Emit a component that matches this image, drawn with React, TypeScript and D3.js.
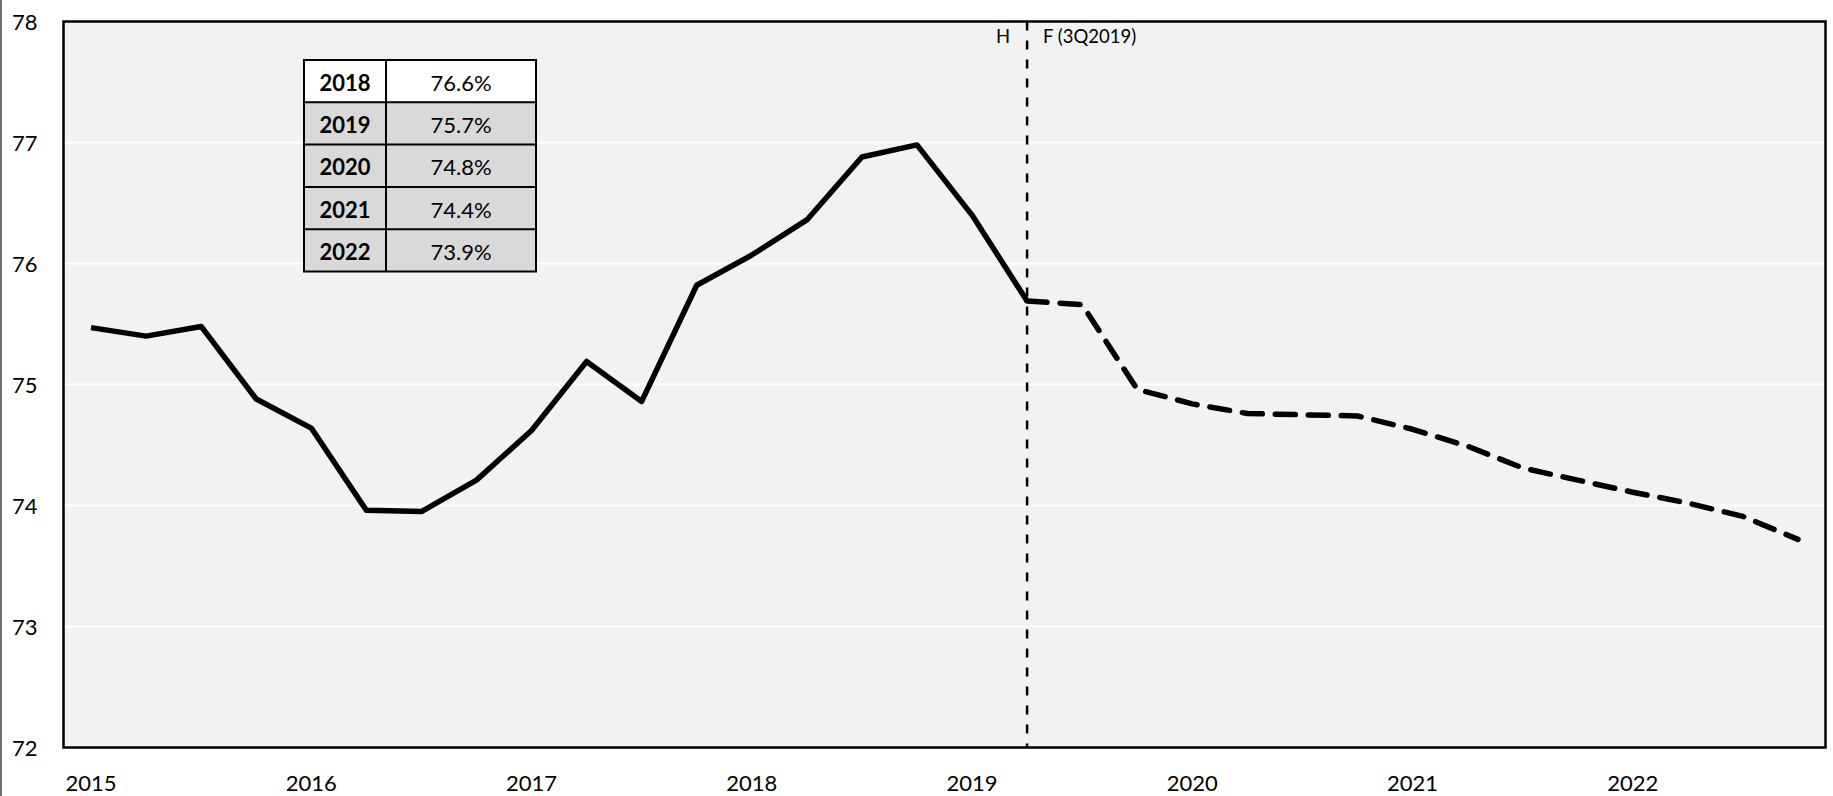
import React, { useEffect } from "react";
import * as d3 from "d3";

const quarters = [
  "2015Q1", "2015Q2", "2015Q3", "2015Q4",
  "2016Q1", "2016Q2", "2016Q3", "2016Q4",
  "2017Q1", "2017Q2", "2017Q3", "2017Q4",
  "2018Q1", "2018Q2", "2018Q3", "2018Q4",
  "2019Q1", "2019Q2", "2019Q3", "2019Q4",
  "2020Q1", "2020Q2", "2020Q3", "2020Q4",
  "2021Q1", "2021Q2", "2021Q3", "2021Q4",
  "2022Q1", "2022Q2", "2022Q3", "2022Q4",
];

const historyQuarters = quarters.slice(0, 18);
const historyValues = [
  75.47, 75.4, 75.48, 74.88, 74.64, 73.96, 73.95, 74.21, 74.62, 75.19,
  74.86, 75.82, 76.07, 76.36, 76.88, 76.98, 76.4, 75.69,
];

const forecastQuarters = quarters.slice(17);
const forecastValues = [
  75.69, 75.66, 74.96, 74.84, 74.76, 74.75, 74.74, 74.63, 74.49, 74.31,
  74.21, 74.11, 74.02, 73.91, 73.72,
];

const yearLabels = ["2015", "2016", "2017", "2018", "2019", "2020", "2021", "2022"];
const yTicks = [72, 73, 74, 75, 76, 77, 78];

const tableYears = ["2018", "2019", "2020", "2021", "2022"];
const tableValues = ["76.6%", "75.7%", "74.8%", "74.4%", "73.9%"];

const splitQuarter = "2019Q2";

const W = 1833;
const H = 796;
const plot = { left: 63.5, top: 21.5, right: 1825.5, bottom: 747.5 };
const FONT = "Lato, 'Open Sans', sans-serif";

export default function App() {
  useEffect(() => {
    document.body.style.margin = "0";
  }, []);

  const x = d3
    .scaleBand<string>()
    .domain(quarters)
    .range([plot.left, plot.right])
    .padding(0);
  const cx = (q: string) => (x(q) as number) + x.bandwidth() / 2;
  const y = d3.scaleLinear().domain([72, 78]).range([plot.bottom, plot.top]);

  const line = d3
    .line<[string, number]>()
    .x((d) => cx(d[0]))
    .y((d) => y(d[1]))
    .curve(d3.curveLinear);

  const histPath = line(historyQuarters.map((q, i) => [q, historyValues[i]]) as [string, number][]) || "";
  const fcPath = line(forecastQuarters.map((q, i) => [q, forecastValues[i]]) as [string, number][]) || "";

  const splitX = cx(splitQuarter);

  const table = { left: 304, colX: 386, right: 536, top: 60, rowH: 42.3 };

  return (
    <svg
      width={W}
      height={H}
      style={{ position: "absolute", left: 0, top: 0, background: "#ffffff" }}
      fontFamily={FONT}
    >
      <rect x={0} y={0} width={W} height={H} fill="#ffffff" />
      <line x1={1} x2={1} y1={0} y2={H} stroke="#404040" strokeWidth={1.5} />
      {/* plot background */}
      <rect
        x={plot.left}
        y={plot.top}
        width={plot.right - plot.left}
        height={plot.bottom - plot.top}
        fill="#f2f2f2"
      />
      {/* gridlines */}
      {yTicks
        .filter((t) => t !== 72 && t !== 78)
        .map((t) => (
          <line
            key={"g" + t}
            x1={plot.left}
            x2={plot.right}
            y1={y(t)}
            y2={y(t)}
            stroke="#ffffff"
            strokeWidth={2}
          />
        ))}
      {/* y labels */}
      {yTicks.map((t) => (
        <text
          key={"y" + t}
          x={37.5}
          y={y(t)}
          textAnchor="end"
          dominantBaseline="central"
          fontSize={22}
          fill="#000"
        >
          {t}
        </text>
      ))}
      {/* x labels */}
      {yearLabels.map((yr) => (
        <text
          key={"x" + yr}
          x={cx(yr + "Q1")}
          y={782}
          textAnchor="middle"
          dominantBaseline="central"
          fontSize={22}
          fill="#000"
        >
          {yr}
        </text>
      ))}
      {/* split line */}
      <line
        x1={splitX}
        x2={splitX}
        y1={plot.top}
        y2={plot.bottom}
        stroke="#000"
        strokeWidth={2.5}
        strokeDasharray="9 10"
      />
      <text x={splitX - 17} y={42.5} textAnchor="end" fontSize={18.5} fill="#000">
        H
      </text>
      <text x={splitX + 16} y={42.5} textAnchor="start" fontSize={18.5} fill="#000">
        F (3Q2019)
      </text>
      {/* lines */}
      <path d={histPath} fill="none" stroke="#000" strokeWidth={5.5} strokeLinejoin="round" />
      <path
        d={fcPath}
        fill="none"
        stroke="#000"
        strokeWidth={5.5}
        strokeLinejoin="round"
        strokeLinecap="round"
        strokeDasharray="20 13"
      />
      {/* plot border */}
      <rect
        x={plot.left}
        y={plot.top}
        width={plot.right - plot.left}
        height={plot.bottom - plot.top}
        fill="none"
        stroke="#000"
        strokeWidth={2.5}
      />
      {/* table */}
      <g>
        {tableYears.map((yr, i) => {
          const ty = table.top + i * table.rowH;
          const fill = i === 0 ? "#ffffff" : "#d9d9d9";
          return (
            <g key={"t" + yr}>
              <rect x={table.left} y={ty} width={table.right - table.left} height={table.rowH} fill={fill} />
              <text
                x={(table.left + table.colX) / 2}
                y={ty + table.rowH / 2 + 1}
                textAnchor="middle"
                dominantBaseline="central"
                fontSize={22}
                fontWeight="bold"
                fill="#000"
              >
                {yr}
              </text>
              <text
                x={(table.colX + table.right) / 2}
                y={ty + table.rowH / 2 + 1}
                textAnchor="middle"
                dominantBaseline="central"
                fontSize={22}
                fill="#000"
              >
                {tableValues[i]}
              </text>
            </g>
          );
        })}
        {tableYears.map((yr, i) =>
          i === 0 ? null : (
            <line
              key={"tl" + yr}
              x1={table.left}
              x2={table.right}
              y1={table.top + i * table.rowH}
              y2={table.top + i * table.rowH}
              stroke="#000"
              strokeWidth={2}
            />
          )
        )}
        <line
          x1={table.colX}
          x2={table.colX}
          y1={table.top}
          y2={table.top + tableYears.length * table.rowH}
          stroke="#000"
          strokeWidth={2}
        />
        <rect
          x={table.left}
          y={table.top}
          width={table.right - table.left}
          height={tableYears.length * table.rowH}
          fill="none"
          stroke="#000"
          strokeWidth={2}
        />
      </g>
    </svg>
  );
}
